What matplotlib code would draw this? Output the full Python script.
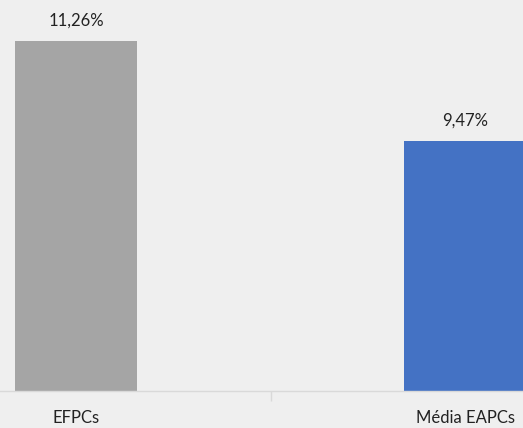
import matplotlib
matplotlib.use("Agg")
import matplotlib.pyplot as plt

categories = ["EFPCs", "Média EAPCs"]
values = [11.26, 9.47]
labels = ["11,26%", "9,47%"]
colors = ["#A5A5A5", "#4472C4"]

W, H = 523, 428
fig = plt.figure(figsize=(W/100, H/100), dpi=100, facecolor="#EFEFEF")
ax = fig.add_axes([0, 1-391/H, 1, 391/H])
ax.set_facecolor("#EFEFEF")
x = list(range(len(categories)))
ax.bar(x, values, width=122/389, color=colors, zorder=2)
ax.set_ylim(5, 12)
ax.set_xlim(-76/389, 1 + (523-465)/389)
for xi, v, l in zip(x, values, labels):
    ax.annotate(l, (xi, v), xytext=(0, 9), textcoords="offset points",
                ha="center", va="bottom", fontsize=12, family="Lato", color="#222222")
for s in ["top", "right", "left"]:
    ax.spines[s].set_visible(False)
ax.spines["bottom"].set_color("#D9D9D9")
ax.spines["bottom"].set_linewidth(1)
ax.set_yticks([])
ax.set_xticks(x)
ax.set_xticklabels(categories, fontsize=12, family="Lato", color="#222222")
ax.tick_params(axis="x", which="major", length=0, pad=14)
ax.set_xticks([0.5], minor=True)
ax.tick_params(axis="x", which="minor", length=7, color="#D9D9D9", width=1)
fig.savefig("out.png", dpi=100, facecolor=fig.get_facecolor())
